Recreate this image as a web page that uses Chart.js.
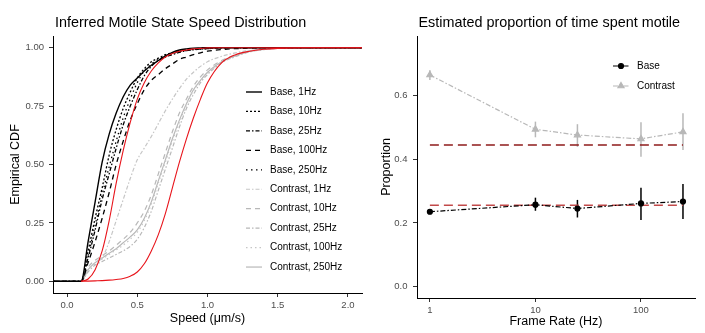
<!DOCTYPE html>
<html>
<head>
<meta charset="utf-8">
<script src="https://cdn.jsdelivr.net/npm/chart.js@4.4.0/dist/chart.umd.min.js"></script>
<style>
  html, body { margin: 0; padding: 0; background: #fff; }
  #wrap { position: relative; width: 705px; height: 333px; }
  canvas { position: absolute; top: 0; }
</style>
</head>
<body>
<div id="wrap">
  <canvas id="cdf" width="370" height="333" style="left:0"></canvas>
  <canvas id="prop" width="335" height="333" style="left:370px"></canvas>
</div>
<script>
// ---- left panel: speed ECDFs ----
const speedGrid = [-0.1, 0.1, 0.15, 0.2, 0.25, 0.3, 0.35, 0.4, 0.45, 0.5, 0.55, 0.6, 0.65, 0.7, 0.75, 0.8, 0.85, 0.9, 0.95, 1.0, 1.1, 1.2, 1.3, 1.4, 1.5, 1.7, 2.1];
const base1Hz   = [0, 0, 0.17, 0.34, 0.51, 0.63, 0.72, 0.79, 0.84, 0.87, 0.90, 0.925, 0.945, 0.965, 0.98, 0.99, 0.995, 0.998, 0.999, 1, 1, 1, 1, 1, 1, 1, 1];
const base10Hz  = [0, 0, 0.13, 0.27, 0.40, 0.54, 0.65, 0.74, 0.81, 0.87, 0.91, 0.94, 0.955, 0.97, 0.978, 0.985, 0.99, 0.993, 0.995, 0.997, 1, 1, 1, 1, 1, 1, 1];
const base25Hz  = [0, 0, 0.10, 0.22, 0.35, 0.46, 0.57, 0.67, 0.75, 0.82, 0.88, 0.92, 0.945, 0.96, 0.97, 0.98, 0.987, 0.991, 0.994, 0.996, 0.999, 1, 1, 1, 1, 1, 1];
const base100Hz = [0, 0, 0.08, 0.17, 0.27, 0.38, 0.50, 0.60, 0.69, 0.76, 0.82, 0.86, 0.885, 0.91, 0.93, 0.95, 0.96, 0.97, 0.978, 0.985, 0.992, 0.996, 0.998, 1, 1, 1, 1];
const base250Hz = [0, 0, 0.11, 0.24, 0.37, 0.49, 0.60, 0.70, 0.78, 0.85, 0.90, 0.93, 0.95, 0.965, 0.975, 0.983, 0.988, 0.992, 0.994, 0.996, 0.999, 1, 1, 1, 1, 1, 1];
const contrast1Hz   = [0, 0, 0.05, 0.08, 0.10, 0.17, 0.26, 0.35, 0.44, 0.52, 0.57, 0.62, 0.675, 0.73, 0.78, 0.825, 0.865, 0.895, 0.92, 0.94, 0.963, 0.978, 0.988, 0.994, 0.997, 1, 1];
const contrast10Hz  = [0, 0, 0.06, 0.09, 0.11, 0.13, 0.155, 0.18, 0.21, 0.25, 0.30, 0.37, 0.46, 0.55, 0.64, 0.72, 0.78, 0.835, 0.875, 0.905, 0.945, 0.97, 0.986, 0.994, 0.998, 1, 1];
const contrast25Hz  = [0, 0, 0.04, 0.07, 0.085, 0.10, 0.115, 0.13, 0.15, 0.18, 0.23, 0.30, 0.39, 0.48, 0.57, 0.66, 0.74, 0.80, 0.85, 0.885, 0.935, 0.962, 0.982, 0.992, 0.997, 1, 1];
const contrast100Hz = [0, 0, 0.05, 0.075, 0.095, 0.115, 0.135, 0.155, 0.18, 0.21, 0.26, 0.33, 0.42, 0.51, 0.60, 0.68, 0.755, 0.815, 0.86, 0.89, 0.938, 0.965, 0.983, 0.993, 0.997, 1, 1];
const contrast250Hz = [0, 0, 0.05, 0.08, 0.10, 0.12, 0.14, 0.165, 0.19, 0.22, 0.27, 0.34, 0.43, 0.52, 0.61, 0.69, 0.76, 0.82, 0.86, 0.895, 0.94, 0.966, 0.984, 0.993, 0.997, 1, 1];
const refFast = [null, 0, 0.01, 0.05, 0.13, 0.26, 0.42, 0.56, 0.68, 0.78, 0.85, 0.90, 0.935, 0.96, 0.975, 0.985, 0.99, 0.995, 0.997, 0.999, 1, 1, 1, 1, 1, 1, 1];
const refSlow = [null, 0, 0.001, 0.002, 0.003, 0.005, 0.008, 0.012, 0.022, 0.04, 0.075, 0.13, 0.20, 0.29, 0.40, 0.51, 0.61, 0.70, 0.78, 0.85, 0.935, 0.97, 0.985, 0.993, 0.997, 1, 1];
const speedTicks = [0, 0.5, 1.0, 1.5, 2.0];
const cdfTicks = [0, 0.25, 0.5, 0.75, 1.0];

// ---- right panel: proportion motile ----
const frameRates = [1, 10, 25, 100, 250];
const baseProp = [0.235, 0.257, 0.245, 0.261, 0.267];
const baseLo   = [0.228, 0.238, 0.217, 0.209, 0.212];
const baseHi   = [0.242, 0.279, 0.272, 0.310, 0.322];
const contrastProp = [0.663, 0.493, 0.475, 0.463, 0.485];
const contrastLo   = [0.647, 0.468, 0.438, 0.407, 0.428];
const contrastHi   = [0.678, 0.517, 0.509, 0.515, 0.543];
const contrastRef = 0.444;
const baseRef = 0.255;
const rateTicks = [1, 10, 100];
const propTicks = [0, 0.2, 0.4, 0.6];

const FONT = '"Liberation Sans", Arial, sans-serif';
const TICK = '#4D4D4D';

function pts(xs, ys) {
  return xs.map((x, i) => ({ x: x, y: ys[i] }));
}

// titolo + legenda dentro il pannello
const panelText = {
  id: 'panelText',
  afterDraw(chart, args, o) {
    const ctx = chart.ctx;
    ctx.save();
    ctx.fillStyle = '#000';
    ctx.font = '14.4px ' + FONT;
    ctx.textBaseline = 'alphabetic';
    ctx.fillText(o.title, o.titleX, o.titleY);
    const items = chart.data.datasets.filter(d => !d.noLegend);
    items.forEach((d, i) => {
      const y = o.legY + i * o.legGap;
      ctx.strokeStyle = d.borderColor;
      ctx.lineWidth = d.borderWidth;
      ctx.setLineDash(d.borderDash || []);
      ctx.beginPath();
      ctx.moveTo(o.legX, y);
      ctx.lineTo(o.legX + 16, y);
      ctx.stroke();
      ctx.setLineDash([]);
      if (d.pointRadius) {
        ctx.fillStyle = d.pointBackgroundColor;
        ctx.strokeStyle = d.pointBackgroundColor;
        Chart.helpers.drawPoint(ctx, { pointStyle: d.pointStyle, radius: d.pointRadius, rotation: 0, borderWidth: 1 }, o.legX + 8, y);
      }
      ctx.fillStyle = '#000';
      ctx.font = '10px ' + FONT;
      ctx.textBaseline = 'middle';
      ctx.fillText(d.label, o.legX + 24, y);
    });
    ctx.restore();
  }
};

// barre d'errore
const errorBars = {
  id: 'errorBars',
  beforeDatasetsDraw(chart, args, o) {
    const ctx = chart.ctx;
    const xs = chart.scales.x, ys = chart.scales.y;
    ctx.save();
    o.sets.forEach(s => {
      ctx.strokeStyle = s.color;
      ctx.lineWidth = 1.5;
      frameRates.forEach((f, i) => {
        const px = xs.getPixelForValue(f);
        ctx.beginPath();
        ctx.moveTo(px, ys.getPixelForValue(s.lo[i]));
        ctx.lineTo(px, ys.getPixelForValue(s.hi[i]));
        ctx.stroke();
      });
    });
    ctx.restore();
  }
};

function axis(extra) {
  return Object.assign({
    border: { color: '#000', width: 1 },
    grid: { drawOnChartArea: false, drawTicks: true, tickLength: 4, color: '#333' },
  }, extra);
}

const black = '#000000';
const grey = '#B8B8B8';
const greyLight = '#C6C6C6';

function ecdf(label, ys, color, dash, w) {
  return { label: label, data: pts(speedGrid, ys), borderColor: color, borderWidth: w, borderDash: dash,
           pointRadius: 0, cubicInterpolationMode: 'monotone', order: 2 };
}

new Chart(document.getElementById('cdf'), {
  type: 'line',
  data: {
    datasets: [
      ecdf('Base, 1Hz', base1Hz, black, [], 1.4),
      ecdf('Base, 10Hz', base10Hz, black, [2, 2], 1.3),
      ecdf('Base, 25Hz', base25Hz, black, [4, 2, 1.5, 2], 1.3),
      ecdf('Base, 100Hz', base100Hz, black, [5, 4], 1.3),
      ecdf('Base, 250Hz', base250Hz, black, [1.5, 3.5], 1.3),
      ecdf('Contrast, 1Hz', contrast1Hz, greyLight, [4, 2, 1.5, 2], 1.2),
      ecdf('Contrast, 10Hz', contrast10Hz, grey, [5, 4], 1.2),
      ecdf('Contrast, 25Hz', contrast25Hz, grey, [4, 2, 1.5, 2], 1.2),
      ecdf('Contrast, 100Hz', contrast100Hz, greyLight, [1.5, 3], 1.2),
      ecdf('Contrast, 250Hz', contrast250Hz, grey, [], 1.2),
      { label: 'fast', data: pts(speedGrid, refFast), borderColor: '#E8141B', borderWidth: 1.1, pointRadius: 0,
        cubicInterpolationMode: 'monotone', noLegend: true, order: 1 },
      { label: 'slow', data: pts(speedGrid, refSlow), borderColor: '#E8141B', borderWidth: 1.1, pointRadius: 0,
        cubicInterpolationMode: 'monotone', noLegend: true, order: 1 }
    ]
  },
  options: {
    responsive: false,
    animation: false,
    layout: { padding: { top: 36, right: 8, left: 0, bottom: 0 } },
    plugins: {
      legend: { display: false },
      tooltip: { enabled: false },
      panelText: { title: 'Inferred Motile State Speed Distribution', titleX: 55, titleY: 27,
                   legX: 246, legY: 92, legGap: 19.45 }
    },
    scales: {
      x: axis({
        type: 'linear', min: -0.1, max: 2.1,
        afterBuildTicks: s => { s.ticks = speedTicks.map(v => ({ value: v })); },
        afterFit: s => { s.height = 40; },
        ticks: { color: TICK, font: { size: 9.5, family: FONT }, padding: 3, maxRotation: 0,
                 callback: v => Number(v).toFixed(1) },
        title: { display: true, text: 'Speed (μm/s)', color: '#000', font: { size: 12.5, family: FONT }, padding: { top: 0, bottom: 7 } }
      }),
      y: axis({
        type: 'linear', min: -0.05, max: 1.05,
        afterBuildTicks: s => { s.ticks = cdfTicks.map(v => ({ value: v })); },
        afterFit: s => { s.width = 53; },
        ticks: { color: TICK, font: { size: 9.5, family: FONT }, padding: 5,
                 callback: v => Number(v).toFixed(2) },
        title: { display: true, text: 'Empirical CDF', color: '#000', font: { size: 12.5, family: FONT }, padding: { top: 8.5, bottom: 0 } }
      })
    }
  },
  plugins: [panelText]
});

new Chart(document.getElementById('prop'), {
  type: 'line',
  data: {
    datasets: [
      { label: 'Base', data: pts(frameRates, baseProp), borderColor: black, borderWidth: 1.2, borderDash: [5, 2, 1.5, 2],
        pointRadius: 2.5, pointStyle: 'circle', pointBackgroundColor: black, pointBorderColor: black, order: 1 },
      { label: 'Contrast', data: pts(frameRates, contrastProp), borderColor: grey, borderWidth: 1.2, borderDash: [5, 2, 1.5, 2],
        pointRadius: 3.5, pointStyle: 'triangle', pointBackgroundColor: grey, pointBorderColor: grey, order: 1 },
      { label: 'contrastRef', data: pts([frameRates[0], frameRates[4]], [contrastRef, contrastRef]), borderColor: '#8E1B1B',
        borderWidth: 1.5, borderDash: [9, 5], pointRadius: 0, noLegend: true, order: 2 },
      { label: 'baseRef', data: pts([frameRates[0], frameRates[4]], [baseRef, baseRef]), borderColor: '#C24A4A',
        borderWidth: 1.5, borderDash: [9, 5], pointRadius: 0, noLegend: true, order: 2 }
    ]
  },
  options: {
    responsive: false,
    animation: false,
    layout: { padding: { top: 36, right: 10, left: 0, bottom: 0 } },
    plugins: {
      legend: { display: false },
      tooltip: { enabled: false },
      panelText: { title: 'Estimated proportion of time spent motile', titleX: 48.5, titleY: 27,
                   legX: 243, legY: 66, legGap: 20 },
      errorBars: { sets: [
        { lo: baseLo, hi: baseHi, color: black },
        { lo: contrastLo, hi: contrastHi, color: grey }
      ] }
    },
    scales: {
      x: axis({
        type: 'logarithmic', min: 0.755, max: 325,
        afterBuildTicks: s => { s.ticks = rateTicks.map(v => ({ value: v })); },
        afterFit: s => { s.height = 35; },
        ticks: { color: TICK, font: { size: 9.5, family: FONT }, padding: 3, maxRotation: 0,
                 callback: v => String(v) },
        title: { display: true, text: 'Frame Rate (Hz)', color: '#000', font: { size: 12.5, family: FONT }, padding: { top: 0, bottom: 4 } }
      }),
      y: axis({
        type: 'linear', min: -0.035, max: 0.785,
        afterBuildTicks: s => { s.ticks = propTicks.map(v => ({ value: v })); },
        afterFit: s => { s.width = 47; },
        ticks: { color: TICK, font: { size: 9.5, family: FONT }, padding: 5.5,
                 callback: v => Number(v).toFixed(1) },
        title: { display: true, text: 'Proportion', color: '#000', font: { size: 12.5, family: FONT }, padding: { top: 9.5, bottom: 0 } }
      })
    }
  },
  plugins: [panelText, errorBars]
});
</script>
</body>
</html>
